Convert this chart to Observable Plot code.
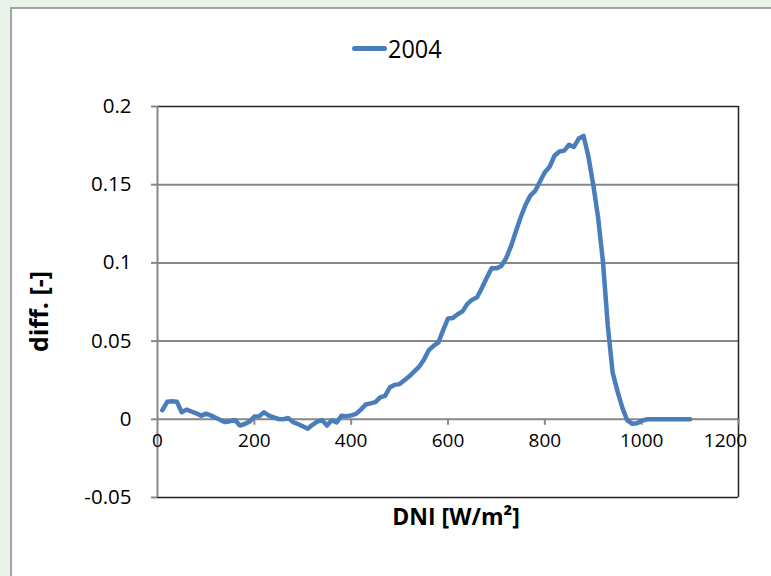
<!DOCTYPE html>
<html>
<head>
<meta charset="utf-8">
<script src="https://cdn.jsdelivr.net/npm/d3@7"></script>
<script src="https://cdn.jsdelivr.net/npm/@observablehq/plot@0.6"></script>
<style>
  html, body { margin: 0; padding: 0; }
  body { width: 771px; height: 576px; background: #eaf3ea; position: relative; overflow: hidden; font-family: "Open Sans", sans-serif; }
  #box { position: absolute; left: 10px; top: 7px; width: 800px; height: 600px; background: #fff; border: 2px solid #a3a3a3; box-sizing: border-box; }
  #chart { position: absolute; left: 0; top: 0; }
  #legend { position: absolute; left: 352px; top: 30px; height: 36px; display: flex; align-items: center; }
  #legend .sw { width: 35px; height: 5px; border-radius: 3px; background: #4a7ebb; }
  #legend .lb { font-size: 26px; color: #000; margin-left: 1px; display: inline-block; transform: scaleX(0.9); transform-origin: left center; }
</style>
</head>
<body>
<div id="box"></div>
<div id="chart"></div>
<div id="legend"><span class="sw"></span><span class="lb" id="lgtext"></span></div>
<script>
const seriesName = "2004";
const xLabel = "DNI [W/m²]";
const yLabel = "diff. [-]";
const xTicks = [0, 200, 400, 600, 800, 1000, 1200];
const yTicks = [-0.05, 0, 0.05, 0.1, 0.15, 0.2];

const dni = [10,20,30,40,50,60,70,80,90,100,110,120,130,140,150,160,170,180,190,200,
  210,220,230,240,250,260,270,280,290,300,310,320,330,340,350,360,370,380,390,400,
  410,420,430,440,450,460,470,480,490,500,510,520,530,540,550,560,570,580,590,600,
  610,620,630,640,650,660,670,680,690,700,710,720,730,740,750,760,770,780,790,800,
  810,820,830,840,850,860,870,880,890,900,910,920,930,940,950,960,970,980,990,1000,
  1010,1020,1030,1040,1050,1060,1070,1080,1090,1100];
const diff = [0.0058,0.0112,0.0115,0.0113,0.0045,0.0062,0.005,0.0038,0.0022,0.0036,
  0.0025,0.001,-0.0005,-0.0018,-0.0012,-0.0005,-0.004,-0.003,-0.0015,0.0018,
  0.002,0.0045,0.0024,0.0012,0.0002,0.0,0.0008,-0.0018,-0.003,-0.0045,
  -0.006,-0.0035,-0.0015,-0.0005,-0.004,-0.0006,-0.002,0.0022,0.002,0.0025,
  0.0035,0.0062,0.0095,0.0102,0.011,0.014,0.015,0.0205,0.022,0.0225,
  0.025,0.0275,0.0305,0.0335,0.038,0.044,0.047,0.049,0.057,0.0645,
  0.0648,0.0672,0.069,0.0738,0.0765,0.078,0.084,0.0905,0.0965,0.0965,
  0.098,0.103,0.1105,0.12,0.129,0.137,0.143,0.146,0.152,0.158,
  0.1615,0.1685,0.1712,0.1718,0.1755,0.1742,0.1795,0.1812,0.168,0.150,
  0.129,0.101,0.060,0.030,0.018,0.0075,-0.0005,-0.0028,-0.0025,-0.001,
  0,0,0,0,0,0,0,0,0,0];

const data = dni.map((x, i) => ({x, y: diff[i]}));
const blue = "#4a7ebb";
const grid = "#878787";
const fmt = d => String(d);

const chart = Plot.plot({
  width: 771,
  height: 576,
  marginLeft: 157,
  marginRight: 33,
  marginTop: 106,
  marginBottom: 79,
  x: {domain: [0, 1200], axis: null},
  y: {domain: [-0.05, 0.2]},
  style: {background: "transparent", fontFamily: "Open Sans, sans-serif", color: "#000"},
  marks: [
    Plot.ruleY(yTicks.filter(d => d > -0.05 && d < 0.2), {y: d => d, stroke: grid, strokeWidth: 2}),
    Plot.ruleY([0.2, -0.05], {y: d => d, stroke: "#222", strokeWidth: 1.5}),
    Plot.ruleX([1200], {x: d => d, stroke: "#222", strokeWidth: 1.5}),
    Plot.ruleX([0], {x: d => d, stroke: grid, strokeWidth: 2}),
    Plot.axisY({ticks: yTicks, tickFormat: fmt, tickSize: 6, tickPadding: 20, stroke: grid, strokeWidth: 2, fontSize: 20.5, label: null}),
    Plot.ruleX(xTicks.slice(1), {x: d => d, y1: 0, y2: 0, insetBottom: -6, stroke: grid, strokeWidth: 2}),
    Plot.text(xTicks.slice(0, -1), {x: d => d, y: 0, text: fmt, dy: 22, fontSize: 19}),
    Plot.text(xTicks.slice(-1), {x: d => d, y: 0, text: fmt, dy: 22, dx: -13, fontSize: 19}),
    Plot.line(data, {x: "x", y: "y", stroke: blue, strokeWidth: 4.5, strokeLinejoin: "round", strokeLinecap: "round"}),
    Plot.text([xLabel], {text: d => d, frameAnchor: "bottom", dy: 27, dx: 8, fontSize: 23, fontWeight: "bold"}),
    Plot.text([yLabel], {text: d => d, frameAnchor: "left", dx: -118, dy: 50, rotate: -90, fontSize: 25, fontWeight: "bold"})
  ]
});
document.getElementById("chart").appendChild(chart);
document.getElementById("lgtext").textContent = seriesName;
</script>
</body>
</html>
